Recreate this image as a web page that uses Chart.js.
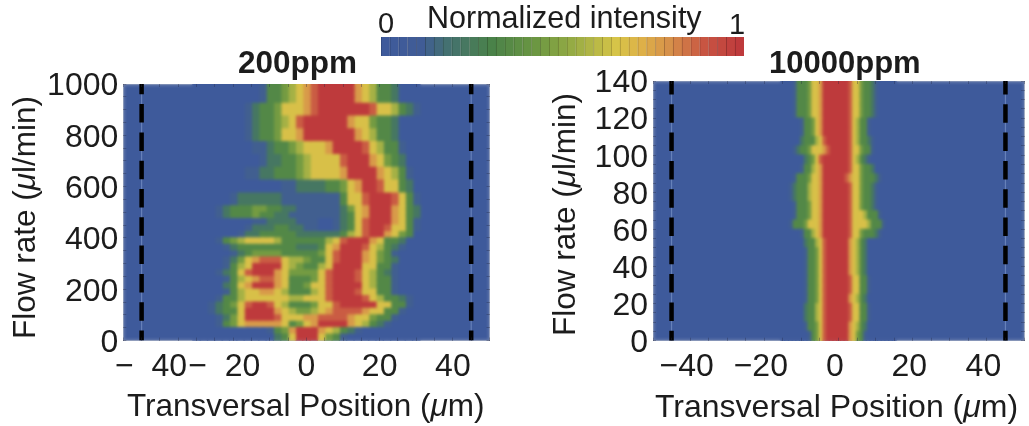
<!DOCTYPE html>
<html>
<head>
<meta charset="utf-8">
<title>Normalized intensity maps</title>
<script src="https://cdn.jsdelivr.net/npm/chart.js@4"></script>
<style>
    html, body { margin: 0; padding: 0; background: #fff; }
    body { position: relative; width: 1029px; height: 426px; overflow: hidden; font-family: "Liberation Sans", sans-serif; color: #1c1c1c; }
    canvas { position: absolute; }
    .lbl { position: absolute; white-space: nowrap; line-height: 1; }
    .rot { transform-origin: 0 0; transform: rotate(-90deg); }
</style>
</head>
<body>
<canvas id="map200" width="510" height="426" style="left:0;top:0"></canvas>
<canvas id="map10000" width="484" height="426" style="left:545px;top:0"></canvas>
<canvas id="colorBar" width="363" height="19" style="left:381px;top:37px"></canvas>

<div class="lbl" style="left:427px;top:2px;font-size:30.5px">Normalized intensity</div>
<div class="lbl" style="left:378px;top:9px;font-size:29px">0</div>
<div class="lbl" style="left:729px;top:10px;font-size:29px">1</div>
<div class="lbl" style="left:238px;top:47px;font-size:31.5px;font-weight:bold">200ppm</div>
<div class="lbl" style="left:769px;top:47px;font-size:31px;font-weight:bold">10000ppm</div>
<div class="lbl" style="left:127px;top:390px;font-size:31.5px">Transversal Position (<i>μ</i>m)</div>
<div class="lbl" style="left:655px;top:390px;font-size:32px">Transversal Position (<i>μ</i>m)</div>
<div class="lbl rot" style="left:9px;top:339px;font-size:31.5px">Flow rate (<i>μ</i>l/min)</div>
<div class="lbl rot" style="left:549px;top:336px;font-size:31.5px">Flow rate (<i>μ</i>l/min)</div>

<script>
// Transversal position of each column (um) and flow rate of each row (ul/min)
const positions200 = [-30,-28,-26,-24,-22,-20,-18,-16,-14,-12,-10,-8,-6,-4,-2,0,2,4,6,8,10,12,14,16,18,20,22,24,26,28,30];
const flows200 = [987.5,962.5,937.5,912.5,887.5,862.5,837.5,812.5,787.5,762.5,737.5,712.5,687.5,662.5,637.5,612.5,587.5,562.5,537.5,512.5,
    487.5,462.5,437.5,412.5,387.5,362.5,337.5,312.5,287.5,262.5,237.5,212.5,187.5,162.5,137.5,112.5,87.5,62.5,37.5,12.5];
// Intensity, one digit per cell: 0 = none, 9 = full
const levels200 = [
    '0000000001334567899999765332000',
    '0000000001334567899999765332000',
    '0000000001334567899999765332000',
    '0000000123346667899999998665321',
    '0000000123346667899999998665321',
    '0000000123345689999997664332000',
    '0000000123345689999997664332000',
    '0000000123346679999999765332000',
    '0000000123346679999999765332000',
    '0000000011233456667999986533100',
    '0000000011233456667999986533100',
    '0000000001223345666689997643200',
    '0000000001223345666689997643200',
    '0000000112233345666679999765310',
    '0000000112233345666679999765310',
    '0000000000001122223346799866320',
    '0000000000001122223346799866320',
    '0000012222221111111136689998631',
    '0000012222221111111136689998631',
    '0001233344332211111124679997632',
    '0001233343322111111123679997632',
    '0000000011222211100123689997631',
    '0000000122233221100123689986631',
    '0000001223333322222235689976430',
    '0001345666653333335689997633200',
    '0000123333333322236799986532100',
    '0000012344443333346899976431000',
    '0000124678886554336899976432000',
    '0000135699996543356999966331000',
    '0001236899976444468999865321000',
    '0000135678876333468999865331000',
    '0000236799976334668999965331000',
    '0000135667765333568999866331000',
    '0001335666666556668999986533210',
    '0012346899865333466899999663310',
    '0012336999976544567888876633100',
    '0001246999986667788887664331000',
    '0001346777776346799997653210000',
    '0000000000134799976532100000000',
    '0000000000023699964310000000000'
];

const positions10000 = [-15,-14,-13,-12,-11,-10,-9,-8,-7,-6,-5,-4,-3,-2,-1,0,1,2,3,4,5,6,7,8,9,10,11,12,13,14,15];
const flows10000 = [137.5,132.5,127.5,122.5,117.5,112.5,107.5,102.5,97.5,92.5,87.5,82.5,77.5,72.5,67.5,62.5,57.5,52.5,47.5,42.5,37.5,32.5,27.5,22.5,17.5,12.5,7.5,2.5];
const levels10000 = [
    '0001333466799999998664332100000',
    '0001333466799999998664332100000',
    '0001333466799999998664332100000',
    '0001333466799999998664332100000',
    '0000013346799999998653310000000',
    '0000013346799999998653310000000',
    '0000023335689999998653321000000',
    '0001233466678999998664331000000',
    '0000002346899999998653210000000',
    '0000013356799999998664332000000',
    '0001333466799999987664333210000',
    '0012333566799999998664332100000',
    '0012333566799999998664332100000',
    '0001333466799999998664332100000',
    '0001333466799999998666533310000',
    '0013334666799999998666653331000',
    '0000013356799999998664333210000',
    '0000002335689999997653200000000',
    '0000001334689999997653200000000',
    '0000001334689999997653200000000',
    '0000001334689999997653200000000',
    '0000001334689999998663310000000',
    '0000001334689999998663310000000',
    '0000001334689999997653200000000',
    '0000002335689999998663310000000',
    '0000002335689999998663310000000',
    '0000001334689999997653200000000',
    '0000000134689999997643100000000'
];

// Channel walls (dashed lines), um
const walls200 = [-45, 45];
const walls10000 = [-45, 45];

// Tick labels
const xTickValues = [-40, -20, 0, 20, 40];
const xTickLabels200 = ['\u2212  40  ', '\u2212  20  ', '0', '20', '40'];
const xTickLabels10000 = ['\u221240', '\u221220', '0', '20', '40'];
const yTickValues200 = [0, 200, 400, 600, 800, 1000];
const yTickValues10000 = [0, 20, 40, 60, 80, 100, 120, 140];

// Colour bar cells
const barLevels = [0,0.025,0.05,0.075,0.1,0.125,0.15,0.175,0.2,0.225,0.25,0.275,0.3,0.325,0.35,0.375,0.4,0.425,0.45,0.475,0.5,
    0.525,0.55,0.575,0.6,0.625,0.65,0.675,0.7,0.725,0.75,0.775,0.8,0.825,0.85,0.875,0.9,0.925,0.95,0.975,1];
const barHeights = barLevels.map(() => 1);

const colorStops = [
    [0, 62, 90, 155], [0.1, 64, 92, 150], [0.17, 68, 112, 115], [0.3, 74, 130, 73], [0.42, 106, 150, 66], [0.52, 146, 170, 68],
    [0.65, 214, 196, 72], [0.72, 222, 178, 72], [0.8, 214, 145, 74], [0.9, 200, 85, 66], [1, 190, 58, 60]
];

function levelColor(t, shade = 1) {
    for (let i = 1; i < colorStops.length; i++) {
        const a = colorStops[i - 1], b = colorStops[i];
        if (t <= b[0]) {
            const f = (t - a[0]) / (b[0] - a[0]);
            const mix = (k) => Math.round((a[k] + (b[k] - a[k]) * f) * shade);
            return `rgb(${mix(1)}, ${mix(2)}, ${mix(3)})`;
        }
    }
    return 'rgb(190, 58, 60)';
}

// Paints the empty plot blue, then softens the cells once the last one is down
const heatmapPlugin = {
    id: 'heatmapLook',
    beforeDraw(chart) {
        const a = chart.chartArea, ctx = chart.ctx;
        ctx.fillStyle = levelColor(0);
        ctx.fillRect(a.left, a.top, a.width, a.height);
    },
    afterDatasetDraw(chart, args) {
        if (args.index !== chart.$firstCell) return;
        const a = chart.chartArea, ctx = chart.ctx;
        ctx.save();
        ctx.beginPath();
        ctx.rect(a.left, a.top, a.width, a.height);
        ctx.clip();
        ctx.filter = 'blur(1.7px)';
        ctx.drawImage(chart.canvas, 0, 0);
        ctx.restore();
    }
};

function createHeatmap(canvasId, positions, flows, levels, walls, cellWidth, yMax, yStep, xLabels, yTicks, box) {
    const datasets = [];
    // listed first so they are painted last, over the cells
    walls.forEach((x) => {
        const line = [{ x: x, y: 0 }, { x: x, y: yMax }];
        datasets.push({ type: 'scatter', showLine: true, data: line, pointRadius: 0, borderColor: '#000', borderWidth: 4.5, borderDash: [18.5, 9.8], borderDashOffset: 8.5 });
        datasets.push({ type: 'scatter', showLine: true, data: line, pointRadius: 0, borderColor: 'rgba(130, 155, 205, 0.6)', borderWidth: 1.2 });
    });
    const firstCell = datasets.length;
    positions.forEach((pos, col) => {
        datasets.push({
            type: 'bar',
            data: flows.map((flow) => ({ x: [pos - cellWidth / 2, pos + cellWidth / 2], y: flow })),
            backgroundColor: levels.map((row) => levelColor(Number(row[col]) / 9)),
            barPercentage: 1, categoryPercentage: 1, grouped: false, inflateAmount: 0.6
        });
    });

    const tickStyle = { tickLength: -3, tickColor: 'rgba(35, 40, 70, 0.35)', drawOnChartArea: false, offset: false, z: 1 };
    const edge = { color: '#a3adc4', width: 1 };
    const tickFont = { family: "'Liberation Sans', sans-serif", size: 32 };
    const chart = new Chart(document.getElementById(canvasId), {
        type: 'bar',
        data: { datasets: datasets },
        plugins: [heatmapPlugin],
        options: {
            indexAxis: 'y', responsive: false, animation: false,
            layout: { padding: { top: box.top, right: box.right } },
            plugins: { legend: { display: false }, title: { display: false }, tooltip: { enabled: false } },
            scales: {
                x: {
                    type: 'linear', position: 'bottom', min: -50, max: 50, offset: false, grid: tickStyle, border: edge,
                    ticks: {
                        stepSize: 5, autoSkip: false, maxRotation: 0, minRotation: 0, padding: box.xPad, labelOffset: box.xShift, color: '#1c1c1c', font: tickFont,
                        callback: (v) => { const i = xTickValues.indexOf(v); return i < 0 ? '' : xLabels[i]; }
                    },
                    afterFit: (s) => { s.height = box.bottom; s.paddingLeft = 0; s.paddingRight = 0; }
                },
                xTop: {
                    type: 'linear', position: 'top', min: -50, max: 50, offset: false, grid: tickStyle, border: edge,
                    ticks: { stepSize: 5, display: false }, afterFit: (s) => { s.height = 0; s.paddingLeft = 0; s.paddingRight = 0; }
                },
                y: {
                    type: 'linear', position: 'left', min: 0, max: yMax, offset: false, grid: tickStyle, border: edge,
                    ticks: {
                        stepSize: yStep, autoSkip: false, padding: 8, labelOffset: 2.5, color: '#1c1c1c', font: tickFont,
                        callback: (v) => (yTicks.includes(v) ? String(v) : '')
                    },
                    afterFit: (s) => { s.width = box.left; s.paddingTop = 0; s.paddingBottom = 0; }
                },
                yRight: {
                    type: 'linear', position: 'right', min: 0, max: yMax, offset: false, grid: tickStyle, border: edge,
                    ticks: { stepSize: yStep, display: false }, afterFit: (s) => { s.width = 0; s.paddingTop = 0; s.paddingBottom = 0; }
                }
            }
        }
    });
    chart.$firstCell = firstCell;
    chart.update();
    return chart;
}

function createColorBar(canvasId) {
    new Chart(document.getElementById(canvasId), {
        type: 'bar',
        data: {
            labels: barLevels,
            datasets: [{
                data: barHeights,
                backgroundColor: barLevels.map((t) => levelColor(t)),
                borderColor: barLevels.map((t) => levelColor(t, 0.78)),
                borderWidth: { left: 1, right: 0, top: 0, bottom: 0 },
                barPercentage: 1, categoryPercentage: 1
            }]
        },
        options: {
            responsive: false, animation: false,
            plugins: { legend: { display: false }, tooltip: { enabled: false } },
            scales: { x: { display: false }, y: { display: false, min: 0, max: 1 } }
        }
    });
}

createHeatmap('map200', positions200, flows200, levels200, walls200, 2, 1000, 50, xTickLabels200, yTickValues200,
    { left: 123.3, right: 20.5, top: 84, bottom: 85.5, xPad: 10, xShift: 0 });
createHeatmap('map10000', positions10000, flows10000, levels10000, walls10000, 1, 140, 5, xTickLabels10000, yTickValues10000,
    { left: 108, right: 5, top: 81, bottom: 85.3, xPad: 10, xShift: -3.5 });
createColorBar('colorBar');
</script>
</body>
</html>
